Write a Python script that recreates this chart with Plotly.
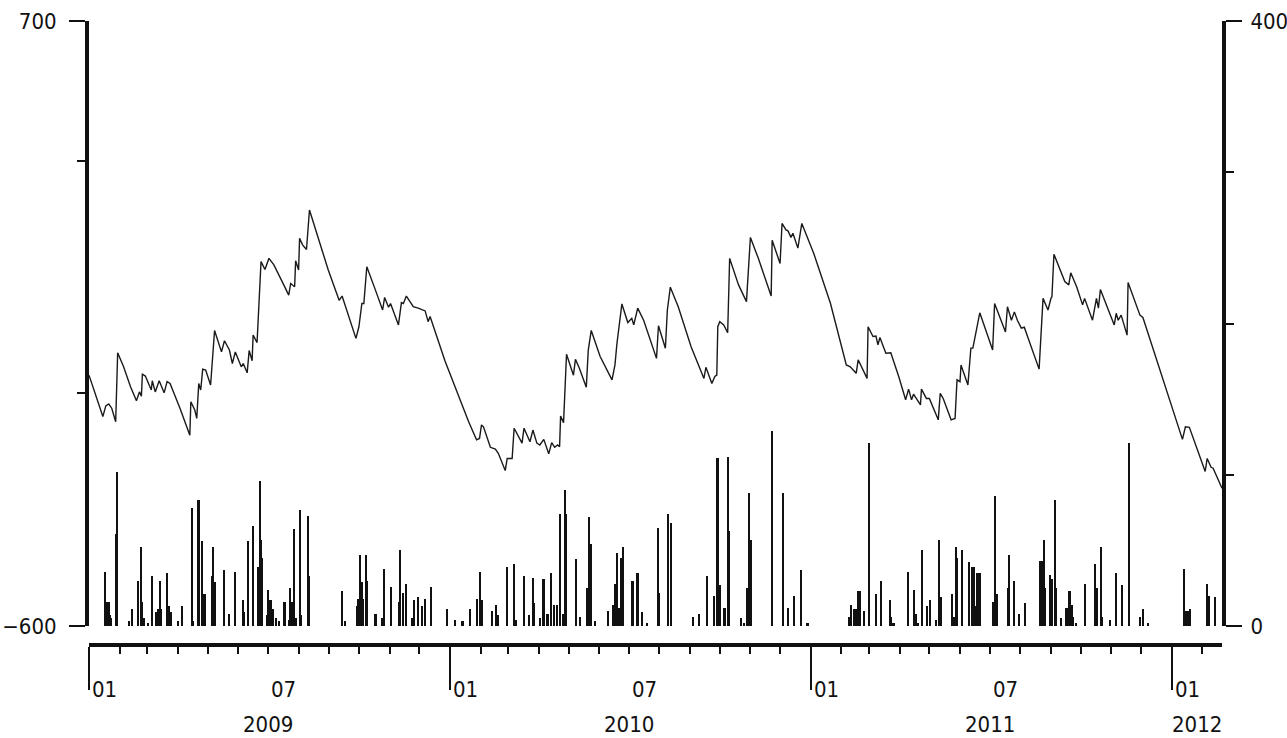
import pandas as pd
import plotly.graph_objects as go

START = pd.Timestamp("2009-01-01")
END = "2012-02-21"

# Water level (left axis), vertices: day offset from 2009-01-01, value
line_day = [0, 14, 17, 20, 23, 27, 29, 35, 42, 48, 51, 53, 54, 57, 63, 64, 67, 71, 76, 79,
            82, 92, 102, 103, 107, 109, 111, 113, 115, 118, 123, 127, 134, 137, 142, 145, 148, 154, 156, 160,
            162, 165, 166, 170, 174, 178, 182, 187, 197, 202, 204, 208, 209, 212, 213, 216, 220, 223, 242, 253,
            256, 270, 273, 276, 278, 281, 289, 297, 299, 303, 305, 313, 316, 318, 321, 328, 333, 340, 343, 345,
            360, 384, 392, 395, 397,
            399, 406, 411, 414, 421, 423, 428, 430, 438, 440, 446, 449, 453, 456, 460, 465, 468, 471, 474, 476,
            477, 480, 483, 490, 492, 496, 503, 505, 508, 517, 525, 529, 532, 534, 539, 545, 549, 551, 555, 561,
            574, 576, 583, 585, 588, 596, 609, 616, 622, 624, 630, 633, 635, 636, 638, 642, 646, 648, 657, 665,
            669, 677, 690, 691, 699, 701, 705, 707, 710, 712, 717, 721, 733, 750, 766, 770,
            776, 778, 783, 787, 788, 793, 796, 798, 800, 806, 811, 819, 826, 829, 832, 834, 841, 842, 847, 850,
            859, 861, 864, 872, 876, 878, 881, 882, 889, 892, 894, 898, 901, 914, 916, 927, 929, 933, 936, 939,
            943, 946, 961, 965, 970, 973, 974, 976, 982, 987, 991, 993, 999, 1005, 1007, 1015, 1019, 1021, 1023, 1037,
            1039, 1041, 1044, 1050, 1051, 1063, 1066, 1106, 1109, 1113, 1129, 1131, 1135, 1137, 1146]
line_val = [-61, -150, -127, -123, -132, -161, -13, -43, -86, -116, -97, -106, -59, -63, -93, -73, -97, -73, -99, -75,
            -79, -132, -190, -118, -136, -154, -79, -93, -48, -50, -82, 35, -11, 13, -7, -36, -11, -43, -36, -56,
            -8, -30, 25, 9, 183, 166, 190, 176, 133, 111, 136, 129, 185, 165, 233, 219, 209, 294, 165, 100,
            109, 18, 43, 93, 93, 172, 126, 79, 106, 85, 93, 47, 95, 93, 109, 86, 83, 77, 54, 65,
            -30, -161, -200, -197, -168,
            -172, -216, -220, -229, -266, -240, -240, -175, -207, -175, -204, -179, -207, -211, -199, -230, -206, -216, -211, -215,
            -149, -163, -16, -61, -27, -46, -87, -7, 35, -21, -56, -71, -39, 7, 92, 52, 61, 47, 83, 57,
            -25, 45, -3, 79, 128, 86, 0, -36, -68, -44, -79, -64, -61, 43, 54, 47, 30, 190, 133, 97,
            235, 190, 109, 229, 179, 265, 251, 249, 235, 244, 212, 265, 201, 93, -39, -43,
            -57, -28, -50, -68, 43, 22, 23, 4, 20, -14, -13, -64, -114, -91, -114, -102, -125, -91, -111, -111,
            -157, -100, -111, -157, -154, -71, -75, -39, -82, -3, -3, 40, 73, -7, 93, 32, 86, 57, 75, 57,
            40, 42, -48, 104, 79, 104, 108, 199, 165, 140, 133, 159, 129, 90, 104, 57, 104, 83, 123, 47,
            72, 57, 68, 25, 138, 68, 63, -199, -172, -173, -268, -240, -259, -261, -304]

# Daily rainfall (right axis): day offset from 2009-01-01, value
bar_day = [16, 18, 20, 21, 22, 28, 29, 41, 44, 50, 53, 54, 56, 60, 64, 68, 69, 70, 72, 73,
           79, 80, 81, 83, 90, 94, 104, 105, 111, 115, 117, 118, 125, 126, 128, 137, 142, 148, 156, 157,
           161, 166, 171, 173, 174, 175, 180, 181, 182, 184, 186, 189, 192, 198, 203, 204, 206, 208, 210, 214,
           215, 222, 223, 256, 259, 271, 272, 274, 276, 277, 280, 281, 290, 297, 299, 306, 314, 315, 318, 321,
           327, 329, 333, 337, 340, 346, 362, 370, 378, 386, 393, 396, 398, 408, 412, 414, 423, 430, 432, 440,
           445, 449, 450, 456, 460, 464, 468, 471, 474, 477, 480, 482, 483, 493, 497, 504, 506, 508, 512, 525,
           530, 532, 534, 536, 538, 540, 550, 555, 560, 565, 576, 577, 586, 589, 611, 617, 625, 632, 636, 638,
           643, 647, 648, 660, 663, 666, 668, 670, 691, 702, 707, 713, 720, 727, 769, 771, 774, 776, 778, 780,
           784, 789, 796, 801, 810, 811, 814, 829, 835, 837, 839, 843, 848, 851, 857, 860, 862, 873, 875, 877,
           878, 883, 890, 893, 895, 897, 898, 901, 915, 917, 919, 930, 931, 936, 941, 947, 962, 964, 966, 967,
           972, 974, 977, 978, 983, 989, 992, 994, 996, 999, 1008, 1018, 1020, 1024, 1025, 1033, 1039, 1045, 1052, 1063,
           1066, 1071, 1108, 1110, 1112, 1114, 1131, 1133, 1139]
bar_val = [36, 16, 16, 7, 5, 61, 102, 3, 11, 30, 52, 16, 5, 2, 33, 9, 8, 11, 30, 11,
           35, 13, 13, 9, 3, 13, 78, 3, 83, 56, 21, 21, 33, 52, 29, 37, 8, 36, 17, 9,
           56, 66, 39, 96, 57, 45, 7, 24, 17, 17, 11, 5, 3, 16, 4, 25, 16, 64, 5, 77,
           7, 73, 33, 23, 3, 13, 18, 47, 29, 18, 47, 30, 8, 5, 38, 26, 16, 50, 22, 28,
           5, 17, 19, 13, 18, 26, 11, 4, 3, 11, 18, 36, 17, 10, 14, 7, 39, 41, 4, 33,
           7, 32, 15, 5, 31, 8, 35, 14, 14, 74, 8, 90, 74, 44, 6, 25, 72, 54, 3, 10,
           14, 28, 48, 12, 45, 52, 30, 35, 9, 2, 65, 22, 74, 68, 6, 8, 33, 20, 111, 27,
           12, 112, 63, 5, 2, 25, 88, 57, 129, 88, 12, 20, 37, 2, 6, 14, 11, 11, 23, 23,
           10, 121, 21, 30, 17, 6, 2, 36, 24, 8, 2, 50, 13, 17, 4, 57, 19, 21, 6, 52,
           45, 50, 42, 39, 39, 13, 35, 35, 16, 86, 21, 25, 47, 30, 8, 15, 43, 43, 57, 25,
           34, 31, 83, 25, 5, 12, 23, 14, 6, 2, 28, 41, 25, 52, 6, 4, 35, 27, 121, 6,
           11, 2, 38, 10, 10, 11, 28, 20, 19]

# Tick labels
left_tickvals = [700, -600]
left_ticktext = ["700", "\u2212600"]
left_minor = [400, -100]
right_tickvals = [0, 400]
right_ticktext = ["0", "400"]
right_minor = [100, 200, 300]
month_labels = [("2009-01-01", "01"), ("2009-07-01", "07"), ("2010-01-01", "01"), ("2010-07-01", "07"),
                ("2011-01-01", "01"), ("2011-07-01", "07"), ("2012-01-01", "01")]
year_labels = [("2009-07-01", "2009", "center"), ("2010-07-01", "2010", "center"),
               ("2011-07-01", "2011", "center"), ("2012-01-01", "2012", "left")]

line_x = START + pd.to_timedelta(line_day, unit="D")
bar_x = START + pd.to_timedelta(bar_day, unit="D")

FONT = "Liberation Sans Narrow, DejaVu Sans Condensed, Arial Narrow, sans-serif"
FS = 22
INK = "#111111"
W, H = 1287, 738
ML, MR, MT, MB = 89, 65, 21, 93
PLOT_BOTTOM = 626
paper_h = H - MT - MB
ydom0 = (H - MB - PLOT_BOTTOM) / paper_h

fig = go.Figure()
fig.add_trace(go.Bar(x=bar_x, y=bar_val, yaxis="y2", xaxis="x",
                     marker=dict(color=INK, line=dict(width=0)),
                     width=1.6 * 86400000, showlegend=False))
fig.add_trace(go.Scatter(x=line_x, y=line_val, mode="lines", xaxis="x", yaxis="y",
                         line=dict(color="#1a1a1a", width=1.4), showlegend=False))

xr = ["2009-01-01", END]
fig.update_layout(
    width=W, height=H,
    margin=dict(l=ML, r=MR, t=MT, b=MB, autoexpand=False),
    paper_bgcolor="white", plot_bgcolor="white",
    font=dict(family=FONT, size=FS, color=INK),
    bargap=0,
    xaxis=dict(type="date", range=xr, anchor="free", position=0, domain=[0, 1], automargin=False,
               showline=True, linewidth=4, linecolor=INK, showgrid=False, zeroline=False,
               ticks="outside", tickmode="linear", tick0="2009-01-01", dtick="M12",
               ticklen=43, tickwidth=2, tickcolor=INK, showticklabels=False,
               minor=dict(ticks="outside", tickmode="linear", tick0="2009-01-01", dtick="M1",
                          ticklen=7, tickwidth=2, tickcolor=INK, showgrid=False)),
    xaxis2=dict(type="date", range=xr, overlaying="x", anchor="y", side="bottom", automargin=False,
                showline=True, linewidth=2, linecolor=INK, showgrid=False, zeroline=False,
                ticks="", showticklabels=False),
    xaxis3=dict(type="date", range=xr, overlaying="x", anchor="free", position=0, automargin=False,
                showline=False, showgrid=False, zeroline=False,
                ticks="outside", tickmode="linear", tick0="2009-07-01", dtick="M12",
                ticklen=15, tickwidth=2, tickcolor=INK, showticklabels=False),
    yaxis=dict(range=[-600, 700], domain=[ydom0, 1], anchor="x", automargin=False,
               showline=True, linewidth=4, linecolor=INK, showgrid=False, zeroline=False,
               ticks="outside", tickmode="array", tickvals=left_tickvals, ticktext=left_ticktext,
               ticklen=16, tickwidth=2, tickcolor=INK, ticklabelstandoff=8,
               tickfont=dict(family=FONT, size=FS, color=INK),
               minor=dict(ticks="outside", tickmode="array", tickvals=left_minor,
                          ticklen=8, tickwidth=2, tickcolor=INK, showgrid=False)),
    yaxis2=dict(range=[0, 400], domain=[ydom0, 1], overlaying="y", side="right", anchor="x",
                automargin=False,
                showline=True, linewidth=4, linecolor=INK, showgrid=False, zeroline=False,
                ticks="outside", tickmode="array", tickvals=right_tickvals, ticktext=right_ticktext,
                ticklen=16, tickwidth=2, tickcolor=INK, ticklabelstandoff=4,
                tickfont=dict(family=FONT, size=FS, color=INK),
                minor=dict(ticks="outside", tickmode="array", tickvals=right_minor,
                           ticklen=8, tickwidth=2, tickcolor=INK, showgrid=False)),
)

month_y = (H - MB - 689) / paper_h
year_y = (H - MB - 724) / paper_h
for xd, txt in month_labels:
    fig.add_annotation(x=xd, y=month_y, xref="x", yref="paper", text=txt, showarrow=False,
                       xanchor="left", yanchor="middle", xshift=1,
                       font=dict(family=FONT, size=FS, color=INK))
for xd, txt, anc in year_labels:
    fig.add_annotation(x=xd, y=year_y, xref="x", yref="paper", text=txt, showarrow=False,
                       xanchor=anc, yanchor="middle", xshift=-2 if anc == "left" else 0,
                       font=dict(family=FONT, size=FS, color=INK))

fig.write_html(
    "out.html",
    config={"displayModeBar": False},
    post_script="document.body.style.margin='0';document.body.style.padding='0';"
                "document.body.style.overflow='hidden';",
)
